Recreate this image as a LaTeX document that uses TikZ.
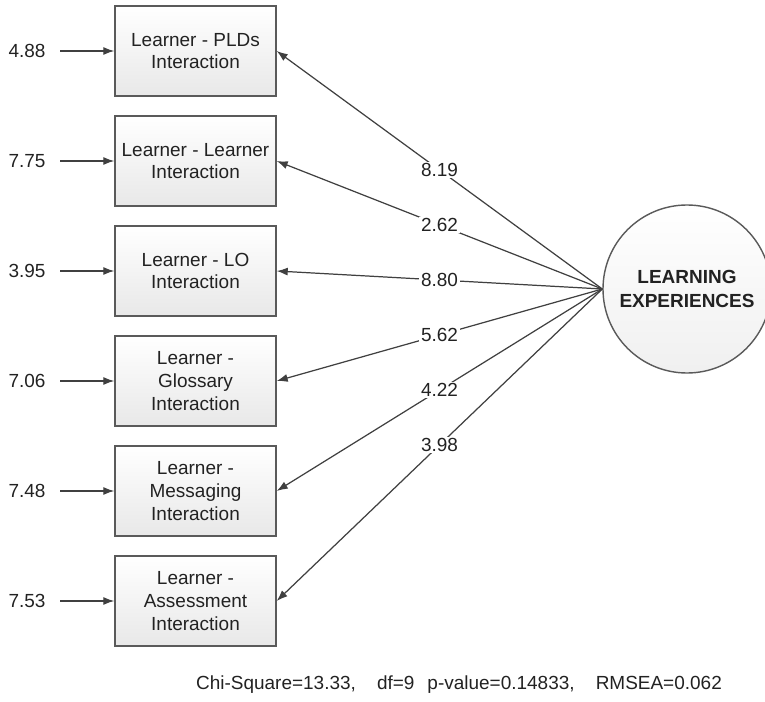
\documentclass[tikz,border=0pt]{standalone}
\usepackage{fontspec}
\setmainfont{Liberation Sans}
\usetikzlibrary{arrows.meta, calc}
\definecolor{linegray}{HTML}{404040}
\definecolor{boxgray}{HTML}{5A5A5A}
\definecolor{textgray}{HTML}{222222}

\begin{document}
\begin{tikzpicture}[
            every node/.style={text=textgray, font=\fontsize{10.8}{13}\selectfont},
            obsbox/.style={draw=boxgray, line width=0.8pt, top color=white, bottom color=gray!18,
                minimum width=3.22cm, minimum height=1.8cm, align=center},
            latent/.style={circle, draw=boxgray, line width=0.8pt, top color=white, bottom color=gray!12,
                minimum size=3.36cm, align=center, font=\fontsize{10.8}{14}\selectfont\bfseries},
            loading/.style={draw=linegray, line width=0.7pt, -{Latex[length=2.2mm, width=1.6mm]}},
            coef/.style={fill=white, inner sep=1pt}
        ]
            \useasboundingbox (0,0) rectangle (15.3,14.02);
            \def\boxx{3.91}
            \def\errx{0.54}

            \node[latent] (le) at (13.74,8.24) {LEARNING\\EXPERIENCES};

            \foreach \i/\txt/\err/\val in {
                1/{Learner - PLDs\\Interaction}/4.88/8.19,
                2/{Learner - Learner\\Interaction}/7.75/2.62,
                3/{Learner - LO\\Interaction}/3.95/8.80,
                4/{Learner -\\Glossary\\Interaction}/7.06/5.62,
                5/{Learner -\\Messaging\\Interaction}/7.48/4.22,
                6/{Learner -\\Assessment\\Interaction}/7.53/3.98} {
                \pgfmathsetmacro{\y}{13.0-2.2*(\i-1)}
                \node[obsbox] (b\i) at (\boxx,\y) {\txt};
                \node (e\i) at (\errx,\y) {\err};
                \draw[loading, shorten <=5pt] (e\i) -- (b\i);
                \draw[loading] (le.west) -- node[coef, pos=0.5] {\val} (b\i.east);
            }

            %fit
            \node (stats) at (9.18,0.32) {Chi-Square=13.33,\hspace{12pt}df=9\hspace{7.4pt}p-value=0.14833,\hspace{12pt}RMSEA=0.062};

        \end{tikzpicture}
\end{document}
